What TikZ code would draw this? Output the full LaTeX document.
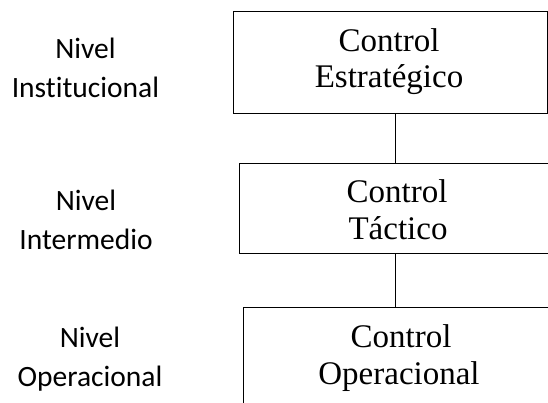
\documentclass[tikz,border=0pt]{standalone}
\usepackage{fontspec}
\setmainfont{Liberation Serif}
\newfontfamily\lblfont[Ligatures=NoCommon]{Carlito}
\begin{document}
\begin{tikzpicture}[x=1pt,y=1pt,
  boxnode/.style={draw=black, line width=0.9pt, rectangle, inner sep=0pt},
  boxtxt/.style={anchor=base, inner sep=0pt, font=\fontsize{33}{36}\selectfont},
  lvltxt/.style={anchor=base, inner sep=0pt, font=\lblfont\fontsize{29.5}{34}\selectfont},
  link/.style={draw=black, line width=0.9pt}]
\useasboundingbox (0,0) rectangle (548,403);
\clip (0,0) rectangle (548,403);
% boxes (y measured from top: y_tikz = 403 - y)
\node[boxnode, minimum width=314pt, minimum height=102pt] (top) at (390,341) {};
\node[boxnode, minimum width=313pt, minimum height=90pt] (mid) at (395.5,195) {};
\node[boxnode, minimum width=314pt, minimum height=102pt] (bot) at (400,45) {};
\draw[link] (mid.north) -- (mid.north |- top.south);
\draw[link] (mid.south) -- (mid.south |- bot.north);
% box texts
\node[boxtxt] (t1) at (389,351) {Control};
\node[boxtxt] (t2) at (389,315) {Estratégico};
\node[boxtxt] (m1) at (397,200) {Control};
\node[boxtxt] (m2) at (398,163) {Táctico};
\node[boxtxt] (b1) at (401,55) {Control};
\node[boxtxt] (b2) at (399,18) {Operacional};
% level labels
\node[lvltxt] (l1) at (85.5,344) {Nivel};
\node[lvltxt] (l2) at (85.5,305) {Institucional};
\node[lvltxt] (l3) at (86,192.3) {Nivel};
\node[lvltxt] (l4) at (86,153) {Intermedio};
\node[lvltxt] (l5) at (90,55) {Nivel};
\node[lvltxt] (l6) at (90,16) {Operacional};
\end{tikzpicture}
\end{document}
